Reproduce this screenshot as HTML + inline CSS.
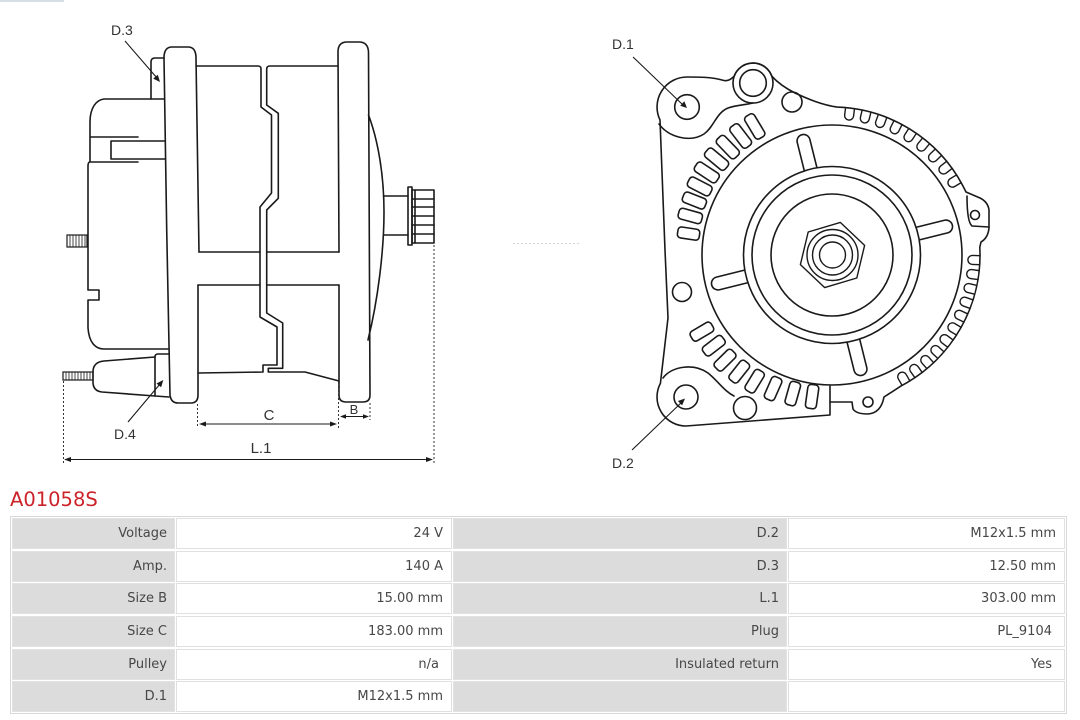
<!DOCTYPE html>
<html><head><meta charset="utf-8">
<style>
html,body{margin:0;padding:0;background:#fff;}
body{width:1080px;height:720px;overflow:hidden;position:relative;}
svg{position:absolute;left:0;top:0;}
.tb{position:absolute;left:10px;top:516px;width:1055px;height:196px;border:1px solid #d9d9d9;}
.c{position:absolute;box-sizing:border-box;height:31px;font-family:"DejaVu Sans",sans-serif;font-size:13px;color:#474747;text-align:right;line-height:29px;white-space:nowrap;}
.l{background:#dcdcdc;border:1px solid #e2e2e2;padding-right:7px;}
.v{background:#fff;border:1px solid #e0e0e0;padding-right:8px;}
.c1{left:12px;width:163px;}
.c2{left:176px;width:276px;}
.c3{left:453px;width:334px;}
.c4{left:788px;width:277px;}
</style></head>
<body>
<svg width="1080" height="720" viewBox="0 0 1080 720" xmlns="http://www.w3.org/2000/svg">
<line x1="0" y1="1" x2="64" y2="1" stroke="#d5dde5" stroke-width="2"/>
<line x1="513" y1="243.5" x2="580" y2="243.5" stroke="#d4d4d4" stroke-width="1" stroke-dasharray="2,2"/>

<!-- LEFT SIDE VIEW -->
<g fill="none" stroke="#1a1a1a" stroke-width="1.6" stroke-linejoin="round" stroke-linecap="round">
<path d="M198,285 L198,395 Q198,403 191,403 L178,403 Q171,403 170,395 C168,300 165,150 164,58 Q164,47 172,47 L188,47 Q196,47 196,58 L199,252"/>
<path d="M339,285 L339,395 Q339,402 346,402 L363,402 Q370,402 370,395 L368.5,52 Q368,42 359,42 L347,42 Q338,42 338,52 L339,252"/>
<path d="M196,66 L258,66 Q261,66 261,69 L261,107 L271.5,115 L271.5,193 L260,207 L260,317 L277,327 L277,365 L263,365 L263,372 L198,373"/>
<path d="M338,66 L270,66 Q266.7,66 266.7,69 L266.7,105 L278.3,113.3 L278.3,198.3 L266.7,210 L266.7,313 L282.7,323 L282.7,368.3 L268.3,368.3 L268.3,372 L305,372 L339,381"/>
<path d="M199,252 L260,252 M266.7,252 L339,252 M198,285 L260,285 M266.7,285 L339,285"/>
<path d="M368.5,115 C378,140 384,175 384,212 C384,250 378,300 368,340"/>
<path d="M383.5,196 L408,196 M384,235 L408,235"/>
<rect x="408" y="187" width="4" height="58"/>
<rect x="412" y="190" width="22" height="53"/>
<path d="M415,190 L415,243 M412,199 L434,199 M412,207 L434,207 M412,216 L434,216 M412,225 L434,225 M412,234 L434,234"/>
<path d="M164,58 L155,58 Q151,58 151,62 L151,99"/>
<path d="M164,99 L104,99 C96,100 90,108 90,122 L90,162 M90,137 L138,137 M165,141 L111,141 L111,159 L165,159 M90,162 L138,162 M90,162 Q88,162 88,166 L88,290 L99,290 L99,300 L88,300 L88,328 C89,342 95,349 104,349 L168,349"/>
<path d="M155,357 L104,361 Q93,362 93,372 L93,382 Q93,391 102,392 L155,396"/>
<path d="M169,354 L158,354 Q155,354 155,357 L155,396 L169,397"/>
</g>
<g fill="none" stroke="#1a1a1a">
<rect x="67" y="235" width="20" height="12" stroke-width="1.2"/>
<path stroke-width="0.8" d="M70,235V247M73,235V247M76,235V247M79,235V247M82,235V247M85,235V247"/>
<rect x="63" y="372" width="30" height="8" stroke-width="1.2"/>
<path stroke-width="0.8" d="M66,372V380M69,372V380M72,372V380M75,372V380M78,372V380M81,372V380M84,372V380M87,372V380M90,372V380"/>
</g>
<!-- leader arrows -->
<g stroke="#1a1a1a" stroke-width="1.1" fill="none">
<line x1="125" y1="41" x2="157" y2="78"/>
<line x1="128" y1="422" x2="160" y2="384"/>
<line x1="633" y1="57" x2="683" y2="105"/>
<line x1="632" y1="450" x2="682" y2="402"/>
</g>
<g fill="#1a1a1a">
<polygon points="160,82 153.2,78.6 157.8,74.7"/>
<polygon points="163.3,380 161.1,387.3 156.5,383.5"/>
<polygon points="687,108 680.2,105.7 684.3,101.3"/>
<polygon points="685,398.5 682.1,405.4 677.9,401"/>
</g>
<!-- dimension lines -->
<g stroke="#333" stroke-width="1" stroke-dasharray="2,2" fill="none">
<line x1="63.5" y1="381" x2="63.5" y2="463"/>
<line x1="434" y1="245" x2="434" y2="463"/>
<line x1="197.5" y1="404" x2="197.5" y2="428"/>
<line x1="338.5" y1="382" x2="338.5" y2="428"/>
<line x1="370" y1="403" x2="370" y2="420"/>
</g>
<g stroke="#1a1a1a" stroke-width="1.1">
<line x1="203" y1="424" x2="333" y2="424"/>
<line x1="344" y1="416.5" x2="365" y2="416.5"/>
<line x1="68" y1="459.5" x2="429" y2="459.5"/>
</g>
<g fill="#1a1a1a">
<polygon points="199,424 206,421.5 206,426.5"/>
<polygon points="337,424 330,421.5 330,426.5"/>
<polygon points="340,416.5 346,414.3 346,418.7"/>
<polygon points="369,416.5 363,414.3 363,418.7"/>
<polygon points="64,459.5 71,457 71,462"/>
<polygon points="433,459.5 426,457 426,462"/>
</g>
<g font-family="Liberation Sans, sans-serif" fill="#333">
<text x="111" y="35" font-size="14">D.3</text>
<text x="114" y="439" font-size="14">D.4</text>
<text x="269" y="420" font-size="15" text-anchor="middle">C</text>
<text x="354" y="414" font-size="13" text-anchor="middle">B</text>
<text x="261" y="453" font-size="15" text-anchor="middle">L.1</text>
<text x="612" y="49" font-size="14">D.1</text>
<text x="612" y="468" font-size="14">D.2</text>
</g>

<!-- RIGHT END VIEW -->
<g fill="none" stroke="#1a1a1a" stroke-width="1.6" stroke-linejoin="round" stroke-linecap="round">
<path d="M660,120 A30,30 0 0 1 687,77 C698,77 712,77 722,80 C728,82 731,79 734.2,76.2 A20,20 0 0 1 771.8,76.2 C778,83 785,88 795,93 C808,99 822,105 837.2,107.1 A148,148 0 0 1 962.7,185.5 L966,192 L980,198 Q988,202 989,210 L989,228 Q988,238 981,242 L979.8,247.3 A148,148 0 0 1 901.5,385.7 L884,397 Q881,413 868,414 Q856,414 853,409 L852,402 L830,402 L830,415 L686,426 A29,29 0 0 1 660.4,383.4 L668,318 L665,250 Z"/>
<path d="M659,124 C668,137 690,143 704,134 C714,127 716,113 728,108 C736,105 745,105 753,103"/>
<path d="M663,378 C672,366 694,363 708,373 C718,381 724,391 734,396"/>
<path d="M830,386 L830,402"/>
<path d="M967,196 Q967,222 972,226 L989,227"/>
<circle cx="832" cy="255" r="130"/>
<g fill="#fff">
<rect x="912" y="248.5" width="44" height="13" rx="6.5" transform="rotate(-104 832 255)"/>
<rect x="912" y="248.5" width="44" height="13" rx="6.5" transform="rotate(-14 832 255)"/>
<rect x="912" y="248.5" width="44" height="13" rx="6.5" transform="rotate(76 832 255)"/>
<rect x="912" y="248.5" width="44" height="13" rx="6.5" transform="rotate(166 832 255)"/>
<circle cx="832" cy="255" r="88.5"/>
</g>
<circle cx="832" cy="255" r="80"/>
<circle cx="832" cy="255" r="61"/>
<polygon points="808.2,232 840.3,222.4 864.6,245.4 856.8,278 824.7,287.6 800.4,264.6" stroke-width="1.4"/>
<circle cx="832.5" cy="255" r="25.5" stroke-width="1.4"/>
<circle cx="832.5" cy="255" r="20" stroke-width="1.4"/>
<circle cx="832.5" cy="255" r="13" stroke-width="1.4"/>
<!-- holes -->
<circle cx="687" cy="107" r="12.3"/>
<circle cx="753" cy="83" r="20"/>
<circle cx="753" cy="83" r="13.3"/>
<circle cx="792" cy="102" r="10"/>
<circle cx="682" cy="292" r="9.5"/>
<circle cx="686" cy="397" r="12"/>
<circle cx="745" cy="408" r="11.5"/>
<circle cx="868" cy="402" r="5"/>
<circle cx="975" cy="215" r="4.5"/>
<!-- left slots upper -->
<rect x="969" y="249.5" width="26" height="11" rx="3.5" transform="rotate(-121 832 255)"/>
<rect x="969" y="249.5" width="26" height="11" rx="3.5" transform="rotate(-127.5 832 255)"/>
<rect x="969" y="249.5" width="26" height="11" rx="3.5" transform="rotate(-134 832 255)"/>
<rect x="969" y="249.5" width="26" height="11" rx="3.5" transform="rotate(-140.3 832 255)"/>
<rect x="969" y="249.5" width="26" height="11" rx="3.5" transform="rotate(-146.6 832 255)"/>
<rect x="968.5" y="249.5" width="25" height="11" rx="3.5" transform="rotate(-152.6 832 255)"/>
<rect x="968" y="249.5" width="24" height="11" rx="3.5" transform="rotate(-158.4 832 255)"/>
<rect x="967" y="249.5" width="24" height="11" rx="3.5" transform="rotate(-164.6 832 255)"/>
<rect x="966" y="249.5" width="22" height="11" rx="3.5" transform="rotate(-171.5 832 255)"/>
<!-- left slots lower -->
<rect x="971" y="249.5" width="24" height="11" rx="3.5" transform="rotate(149.5 832 255)"/>
<rect x="969" y="249.5" width="24" height="11" rx="3.5" transform="rotate(142.5 832 255)"/>
<rect x="970" y="249.5" width="24" height="11" rx="3.5" transform="rotate(135.5 832 255)"/>
<rect x="969" y="249.5" width="24" height="11" rx="3.5" transform="rotate(128.5 832 255)"/>
<rect x="968" y="249.5" width="24" height="11" rx="3.5" transform="rotate(121.5 832 255)"/>
<rect x="966" y="249.5" width="24" height="11" rx="3.5" transform="rotate(113.8 832 255)"/>
<rect x="964" y="249.5" width="24" height="11" rx="3.5" transform="rotate(105.8 832 255)"/>
<rect x="963" y="249.5" width="24" height="11" rx="3.5" transform="rotate(98 832 255)"/>
<!-- U notches -->
<g stroke-width="1.4">
<path d="M980,250.5 L972.5,250.5 A4.5,4.5 0 0 0 972.5,259.5 L980,259.5" transform="rotate(-83 832 255)"/>
<path d="M980,250.5 L972.5,250.5 A4.5,4.5 0 0 0 972.5,259.5 L980,259.5" transform="rotate(-76.5 832 255)"/>
<path d="M980,250.5 L972.5,250.5 A4.5,4.5 0 0 0 972.5,259.5 L980,259.5" transform="rotate(-70 832 255)"/>
<path d="M980,250.5 L972.5,250.5 A4.5,4.5 0 0 0 972.5,259.5 L980,259.5" transform="rotate(-63.5 832 255)"/>
<path d="M980,250.5 L972.5,250.5 A4.5,4.5 0 0 0 972.5,259.5 L980,259.5" transform="rotate(-57 832 255)"/>
<path d="M980,250.5 L972.5,250.5 A4.5,4.5 0 0 0 972.5,259.5 L980,259.5" transform="rotate(-50.5 832 255)"/>
<path d="M980,250.5 L972.5,250.5 A4.5,4.5 0 0 0 972.5,259.5 L980,259.5" transform="rotate(-44 832 255)"/>
<path d="M980,250.5 L972.5,250.5 A4.5,4.5 0 0 0 972.5,259.5 L980,259.5" transform="rotate(-37.5 832 255)"/>
<path d="M980,250.5 L972.5,250.5 A4.5,4.5 0 0 0 972.5,259.5 L980,259.5" transform="rotate(-31 832 255)"/>
<path d="M980,250.5 L972.5,250.5 A4.5,4.5 0 0 0 972.5,259.5 L980,259.5" transform="rotate(2 832 255)"/>
<path d="M980,250.5 L972.5,250.5 A4.5,4.5 0 0 0 972.5,259.5 L980,259.5" transform="rotate(7.8 832 255)"/>
<path d="M980,250.5 L972.5,250.5 A4.5,4.5 0 0 0 972.5,259.5 L980,259.5" transform="rotate(13.6 832 255)"/>
<path d="M980,250.5 L972.5,250.5 A4.5,4.5 0 0 0 972.5,259.5 L980,259.5" transform="rotate(19.4 832 255)"/>
<path d="M980,250.5 L972.5,250.5 A4.5,4.5 0 0 0 972.5,259.5 L980,259.5" transform="rotate(25.2 832 255)"/>
<path d="M980,250.5 L972.5,250.5 A4.5,4.5 0 0 0 972.5,259.5 L980,259.5" transform="rotate(31 832 255)"/>
<path d="M980,250.5 L972.5,250.5 A4.5,4.5 0 0 0 972.5,259.5 L980,259.5" transform="rotate(36.8 832 255)"/>
<path d="M980,250.5 L972.5,250.5 A4.5,4.5 0 0 0 972.5,259.5 L980,259.5" transform="rotate(42.6 832 255)"/>
<path d="M980,250.5 L972.5,250.5 A4.5,4.5 0 0 0 972.5,259.5 L980,259.5" transform="rotate(48.4 832 255)"/>
<path d="M980,250.5 L972.5,250.5 A4.5,4.5 0 0 0 972.5,259.5 L980,259.5" transform="rotate(54.2 832 255)"/>
<path d="M980,250.5 L972.5,250.5 A4.5,4.5 0 0 0 972.5,259.5 L980,259.5" transform="rotate(60 832 255)"/>
</g>
</g>

<text x="10" y="506" font-family="DejaVu Sans, sans-serif" font-size="19.5" fill="#cc2229">A01058S</text>
</svg>

<div class="tb"></div>
<div class="c l c1" style="top:518px">Voltage</div>
<div class="c v c2" style="top:518px">24 V</div>
<div class="c l c3" style="top:518px">D.2</div>
<div class="c v c4" style="top:518px">M12x1.5 mm</div>

<div class="c l c1" style="top:551px">Amp.</div>
<div class="c v c2" style="top:551px">140 A</div>
<div class="c l c3" style="top:551px">D.3</div>
<div class="c v c4" style="top:551px">12.50 mm</div>

<div class="c l c1" style="top:583px">Size B</div>
<div class="c v c2" style="top:583px">15.00 mm</div>
<div class="c l c3" style="top:583px">L.1</div>
<div class="c v c4" style="top:583px">303.00 mm</div>

<div class="c l c1" style="top:616px">Size C</div>
<div class="c v c2" style="top:616px">183.00 mm</div>
<div class="c l c3" style="top:616px">Plug</div>
<div class="c v c4" style="top:616px;padding-right:12px">PL_9104</div>

<div class="c l c1" style="top:649px">Pulley</div>
<div class="c v c2" style="top:649px;padding-right:12px">n/a</div>
<div class="c l c3" style="top:649px">Insulated return</div>
<div class="c v c4" style="top:649px;padding-right:12px">Yes</div>

<div class="c l c1" style="top:681px">D.1</div>
<div class="c v c2" style="top:681px">M12x1.5 mm</div>
<div class="c l c3" style="top:681px"></div>
<div class="c v c4" style="top:681px"></div>
</body></html>
